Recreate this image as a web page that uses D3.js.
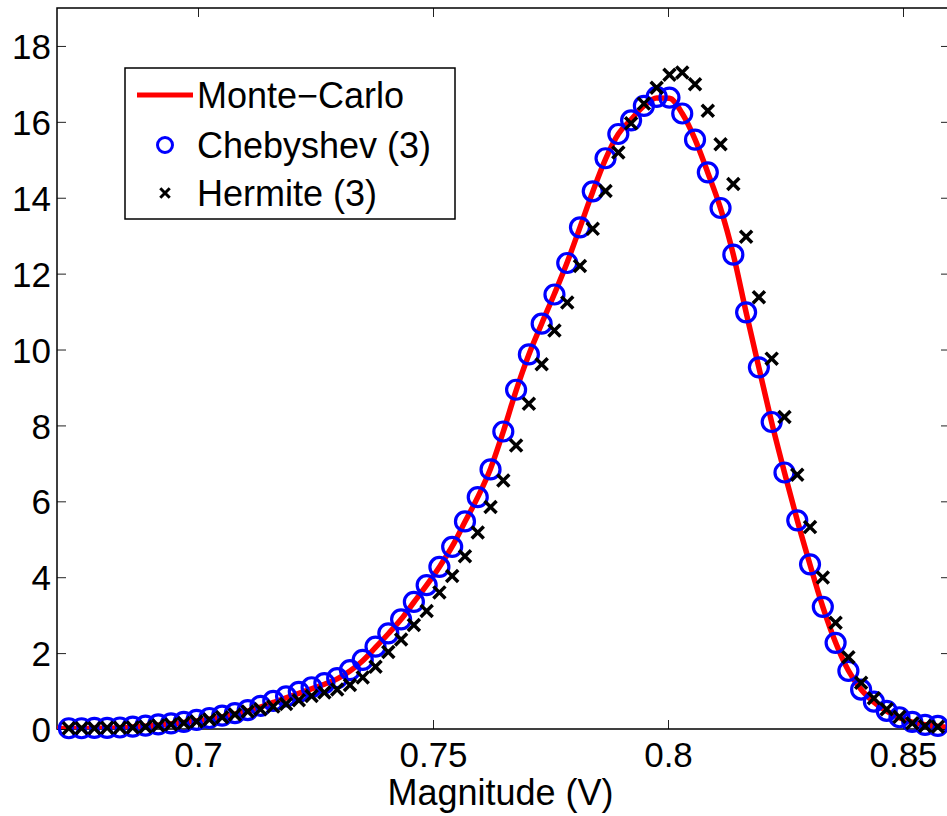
<!DOCTYPE html>
<html>
<head>
<meta charset="utf-8">
<script src="https://cdn.jsdelivr.net/npm/d3@7"></script>
<style>
  body { margin: 0; background: #fff; }
  text { font-family: "Liberation Sans", Arial, Helvetica, sans-serif; }
</style>
</head>
<body>
<div id="chart"></div>
<script>
// sample points (V) shared by both expansions
var xGrid = [
  0.67251, 0.67523, 0.67795, 0.68067, 0.68339, 0.68611, 0.68883, 0.69154, 0.69426, 0.69698,
  0.69970, 0.70242, 0.70514, 0.70786, 0.71058, 0.71330, 0.71602, 0.71874, 0.72145, 0.72417,
  0.72689, 0.72961, 0.73233, 0.73505, 0.73777, 0.74049, 0.74321, 0.74593, 0.74865, 0.75136,
  0.75408, 0.75680, 0.75952, 0.76224, 0.76496, 0.76768, 0.77040, 0.77312, 0.77584, 0.77856,
  0.78127, 0.78399, 0.78671, 0.78943, 0.79215, 0.79487, 0.79759, 0.80031, 0.80303, 0.80575,
  0.80847, 0.81118, 0.81390, 0.81662, 0.81934, 0.82206, 0.82478, 0.82750, 0.83022, 0.83294,
  0.83566, 0.83838, 0.84109, 0.84381, 0.84653, 0.84925, 0.85197, 0.85469, 0.85741
];
var chebValues = [
  0.02, 0.02, 0.03, 0.03, 0.04, 0.06, 0.09, 0.12, 0.15, 0.19,
  0.24, 0.29, 0.35, 0.42, 0.50, 0.61, 0.74, 0.86, 0.98, 1.10,
  1.21, 1.34, 1.55, 1.82, 2.17, 2.52, 2.89, 3.35, 3.79, 4.27,
  4.80, 5.47, 6.11, 6.84, 7.84, 8.94, 9.87, 10.68, 11.45, 12.28,
  13.22, 14.17, 15.04, 15.68, 16.04, 16.42, 16.66, 16.64, 16.22, 15.53,
  14.67, 13.73, 12.50, 10.98, 9.53, 8.09, 6.76, 5.50, 4.34, 3.22,
  2.27, 1.53, 1.04, 0.72, 0.48, 0.31, 0.19, 0.11, 0.08
];
var hermValues = [
  0.02, 0.02, 0.02, 0.03, 0.03, 0.04, 0.06, 0.09, 0.12, 0.16,
  0.20, 0.25, 0.31, 0.38, 0.46, 0.52, 0.59, 0.66, 0.76, 0.87,
  0.96, 1.04, 1.16, 1.36, 1.64, 2.03, 2.36, 2.74, 3.11, 3.60,
  4.03, 4.55, 5.18, 5.85, 6.55, 7.47, 8.57, 9.61, 10.50, 11.24,
  12.20, 13.18, 14.18, 15.19, 15.96, 16.48, 16.90, 17.24, 17.30, 16.99,
  16.29, 15.41, 14.36, 12.97, 11.38, 9.76, 8.22, 6.70, 5.32, 3.99,
  2.80, 1.89, 1.22, 0.81, 0.52, 0.32, 0.15, 0.08, 0.06
];
// Monte-Carlo curve runs edge to edge
var mcX = [0.67].concat(xGrid, [0.86]);
var mcValues = [
  0.01,
  0.01, 0.01, 0.02, 0.02, 0.03, 0.05, 0.07, 0.10, 0.13, 0.17,
  0.21, 0.26, 0.32, 0.39, 0.47, 0.58, 0.70, 0.82, 0.94, 1.06,
  1.18, 1.32, 1.53, 1.80, 2.15, 2.51, 2.89, 3.34, 3.79, 4.27,
  4.81, 5.46, 6.11, 6.86, 7.84, 8.92, 9.87, 10.68, 11.47, 12.30,
  13.22, 14.16, 15.02, 15.68, 16.06, 16.42, 16.63, 16.62, 16.22, 15.54,
  14.66, 13.72, 12.50, 10.98, 9.52, 8.08, 6.76, 5.50, 4.33, 3.22,
  2.28, 1.54, 1.04, 0.71, 0.47, 0.30, 0.18, 0.11, 0.07,
  0.04
];
var xTicks = [0.7, 0.75, 0.8, 0.85];
var yTicks = [0, 2, 4, 6, 8, 10, 12, 14, 16, 18];
var xDomain = [0.67, 0.86];
var yDomain = [0, 19];
var legendLabels = ["Monte\u2212Carlo", "Chebyshev (3)", "Hermite (3)"];
var xLabel = "Magnitude (V)";

function Chart() {
    var self = this;
    this.width = 947;
    this.height = 816;
    this.left = 57; this.right = 950; this.top = 8; this.bottom = 729;

    this.svg = d3.select("#chart").append("svg")
        .attr("width", this.width).attr("height", this.height);

    this.x = d3.scaleLinear().domain(xDomain).range([this.left, this.right]);
    this.y = d3.scaleLinear().domain(yDomain).range([this.bottom, this.top]);

    this.drawAxes = function () {
        var svg = self.svg;
        var fmt = function (d) { return String(d); };

        var gx = svg.append("g").attr("transform", "translate(0," + self.bottom + ")")
            .call(d3.axisBottom(self.x).tickValues(xTicks).tickFormat(fmt).tickSizeInner(-9).tickSizeOuter(0));
        gx.selectAll("text").attr("y", 38).attr("dy", 0)
            .attr("font-size", 35).attr("fill", "#000");

        var gy = svg.append("g").attr("transform", "translate(" + self.left + ",0)")
            .call(d3.axisLeft(self.y).tickValues(yTicks).tickFormat(fmt).tickSizeInner(-9).tickSizeOuter(0).tickPadding(6));
        gy.selectAll("text").attr("dy", "0.36em")
            .attr("font-size", 35).attr("fill", "#000");

        // ticks on the top and right of the box
        svg.append("g").attr("transform", "translate(0," + self.top + ")")
            .call(d3.axisTop(self.x).tickValues(xTicks).tickFormat("").tickSizeInner(-9).tickSizeOuter(0));
        svg.append("g").attr("transform", "translate(" + self.right + ",0)")
            .call(d3.axisRight(self.y).tickValues(yTicks).tickFormat("").tickSizeInner(-9).tickSizeOuter(0));

        svg.selectAll(".domain").remove();
        svg.selectAll(".tick line").attr("stroke", "#222").attr("stroke-width", 1);

        svg.append("rect")
            .attr("x", self.left).attr("y", self.top)
            .attr("width", self.right - self.left).attr("height", self.bottom - self.top)
            .attr("fill", "none").attr("stroke", "#000").attr("stroke-width", 1.5);

        svg.append("text")
            .attr("x", (self.left + self.right) / 2 - 3)
            .attr("y", 805)
            .attr("text-anchor", "middle")
            .attr("font-size", 36)
            .text(xLabel);
    };

    this.drawSeries = function () {
        var svg = self.svg;
        svg.append("clipPath").attr("id", "plotclip").append("rect")
            .attr("x", self.left).attr("y", self.top)
            .attr("width", self.right - self.left).attr("height", self.bottom - self.top);

        var line = d3.line()
            .x(function (d, i) { return self.x(mcX[i]); })
            .y(function (d) { return self.y(d); })
            .curve(d3.curveMonotoneX);

        svg.append("path")
            .datum(mcValues)
            .attr("clip-path", "url(#plotclip)")
            .attr("d", line)
            .attr("fill", "none")
            .attr("stroke", "#ff0000")
            .attr("stroke-width", 5.5)
            .attr("stroke-linejoin", "round");

        svg.append("g").selectAll("circle")
            .data(chebValues)
            .enter().append("circle")
            .attr("cx", function (d, i) { return self.x(xGrid[i]); })
            .attr("cy", function (d) { return self.y(d); })
            .attr("r", 9.5)
            .attr("fill", "none")
            .attr("stroke", "#0000ff")
            .attr("stroke-width", 3.2);

        // symbolTimes is a stroked symbol
        var cross = d3.symbol().type(d3.symbolTimes).size(96);
        svg.append("g").selectAll("path")
            .data(hermValues)
            .enter().append("path")
            .attr("d", cross)
            .attr("transform", function (d, i) {
                return "translate(" + self.x(xGrid[i]) + "," + self.y(d) + ")";
            })
            .attr("fill", "none")
            .attr("stroke", "#000")
            .attr("stroke-width", 3.5);
    };

    this.drawLegend = function () {
        var g = self.svg.append("g");
        g.append("rect")
            .attr("x", 125).attr("y", 68).attr("width", 330).attr("height", 151)
            .attr("fill", "#fff").attr("stroke", "#000").attr("stroke-width", 1.5);

        var rows = [95, 145, 193];
        g.append("line")
            .attr("x1", 137).attr("x2", 193).attr("y1", rows[0]).attr("y2", rows[0])
            .attr("stroke", "#ff0000").attr("stroke-width", 5);
        g.append("circle")
            .attr("cx", 165).attr("cy", rows[1]).attr("r", 7.5)
            .attr("fill", "none").attr("stroke", "#0000ff").attr("stroke-width", 3);
        g.append("path")
            .attr("d", d3.symbol().type(d3.symbolTimes).size(60))
            .attr("transform", "translate(165," + rows[2] + ")")
            .attr("fill", "none").attr("stroke", "#000").attr("stroke-width", 3);

        g.selectAll("text.lab")
            .data(legendLabels)
            .enter().append("text")
            .attr("class", "lab")
            .attr("x", 197)
            .attr("y", function (d, i) { return rows[i]; })
            .attr("dy", "0.36em")
            .attr("font-size", 36)
            .text(function (d) { return d; });
    };

    this.drawAxes();
    this.drawSeries();
    this.drawLegend();
}

document.addEventListener("DOMContentLoaded", function () {
    new Chart();
});
</script>
</body>
</html>
